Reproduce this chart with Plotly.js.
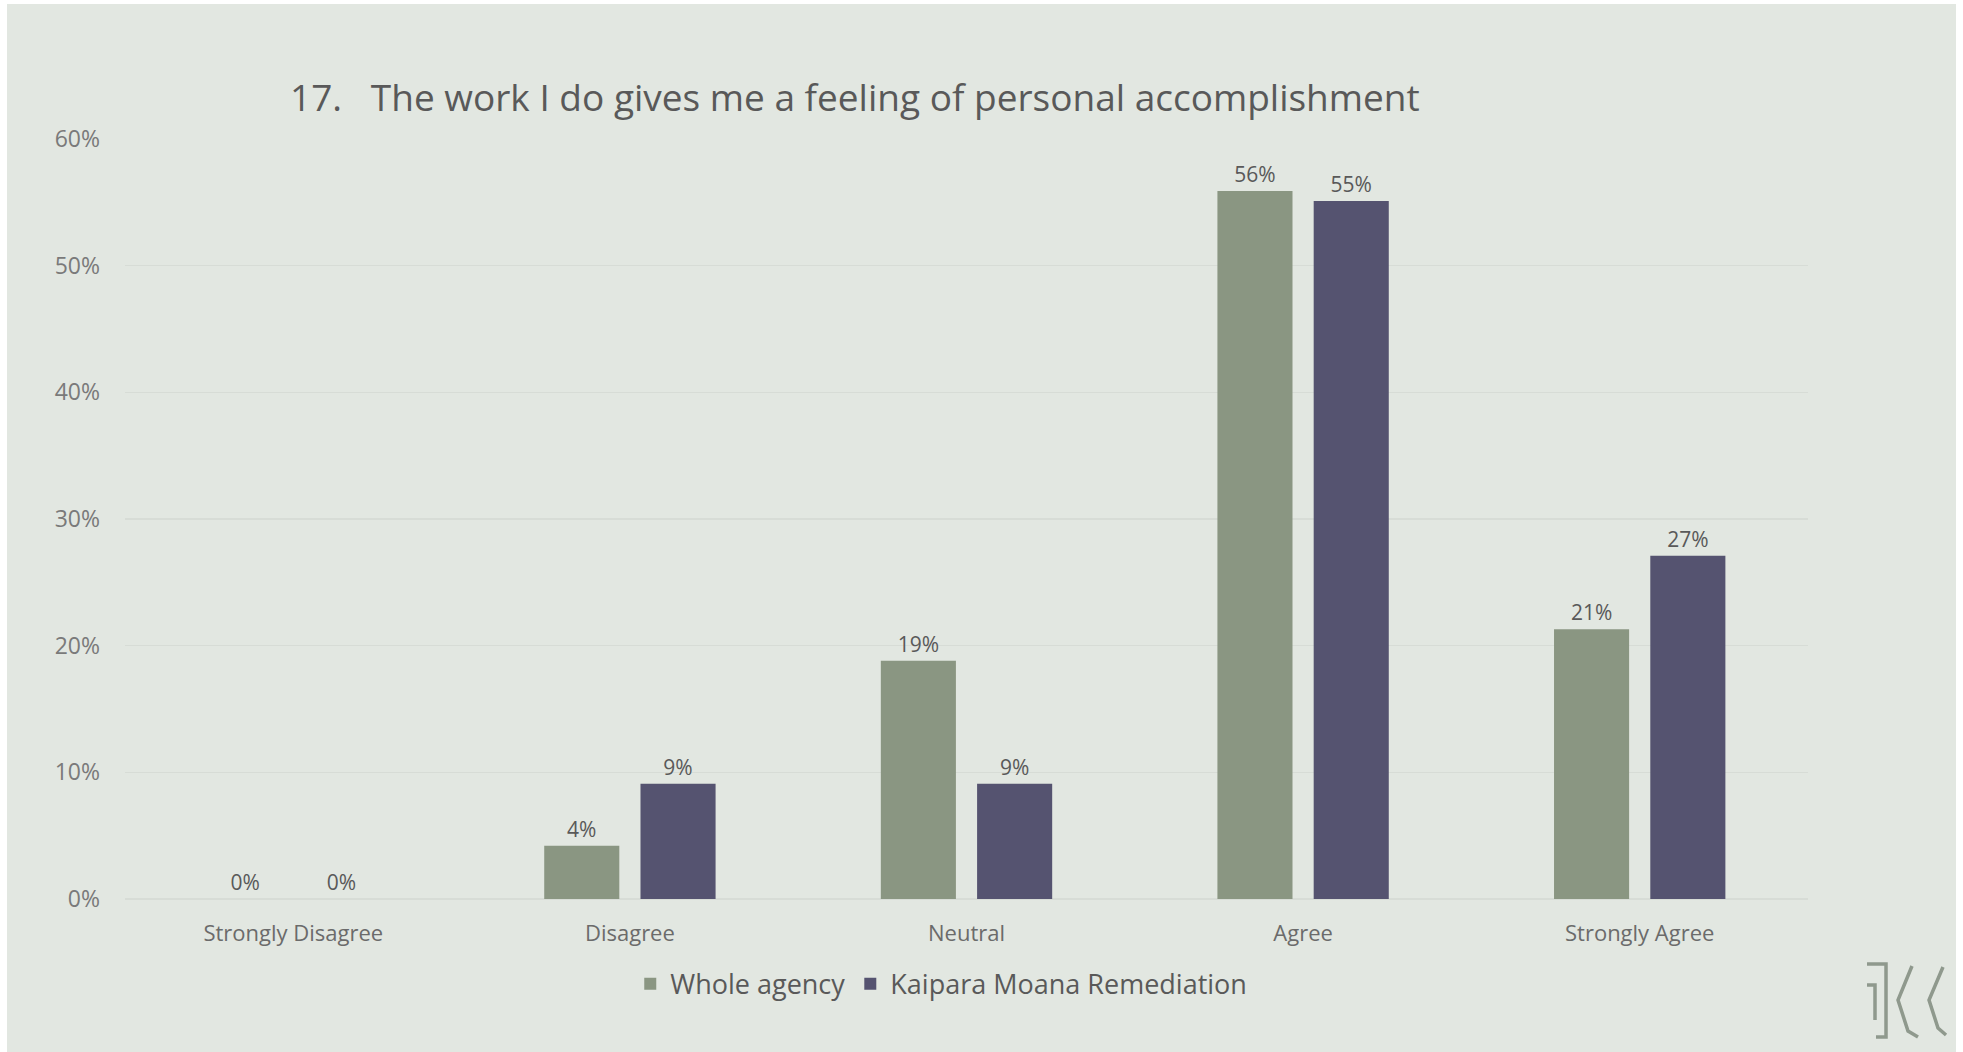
<!DOCTYPE html>
<html>
<head>
<meta charset="utf-8">
<script src="https://cdn.plot.ly/plotly-3.0.1.min.js"></script>
<style>
html,body{margin:0;padding:0;background:#ffffff;width:1963px;height:1052px;overflow:hidden;}
#chart{position:absolute;left:7px;top:4px;width:1949px;height:1048px;}
</style>
</head>
<body>
<div id="chart"></div>
<script>
const categories = ["Strongly Disagree", "Disagree", "Neutral", "Agree", "Strongly Agree"];
const wholeAgency = [0, 4.2, 18.8, 55.9, 21.3];
const kaiparaMoana = [0, 9.1, 9.1, 55.1, 27.1];
const seriesNames = ["Whole agency", "Kaipara Moana Remediation"];
const yTicks = [0, 10, 20, 30, 40, 50, 60];
const yTickText = ["0%", "10%", "20%", "30%", "40%", "50%", "60%"];
const titleText = "17.\u00a0\u00a0\u00a0The work I do gives me a feeling of personal accomplishment";

const W = 1949, H = 1048;
const M = {l: 118, r: 148, t: 135, b: 153};
const pw = W - M.l - M.r, ph = H - M.t - M.b;
// convert page pixel coords to paper coords (for the logo decoration)
const px = x => (x - 7 - M.l) / pw;
const py = y => (H - M.b - (y - 4)) / ph;
function pathFrom(pts){
  return pts.map((p,i)=> (i? 'L':'M') + px(p[0]).toFixed(5) + ',' + py(p[1]).toFixed(5)).join(' ');
}
const logoColor = '#8f998d';
const logoPaths = [
  [[1867,964],[1886,964],[1886,1037],[1876,1037]],
  [[1867,985],[1875,985],[1875,1020]],
  [[1912,966],[1898,1000],[1908,1031],[1918,1037]],
  [[1943,967],[1929,1000],[1938,1028],[1946,1035]]
];
const shapes = logoPaths.map(pts => ({
  type: 'path', xref: 'paper', yref: 'paper', path: pathFrom(pts),
  line: {color: logoColor, width: 3.5}
}));

const common = {
  type: 'bar', x: categories,
  texttemplate: '%{y:.0f}%', textposition: 'outside', cliponaxis: false,
  textfont: {family: 'Open Sans, sans-serif', size: 21, color: '#595959'},
  hoverinfo: 'skip'
};
const data = [
  Object.assign({}, common, {name: seriesNames[0], y: wholeAgency, marker: {color: '#8a9682'}}),
  Object.assign({}, common, {name: seriesNames[1], y: kaiparaMoana, marker: {color: '#555370'}})
];

const layout = {
  width: W, height: H,
  paper_bgcolor: '#e2e7e1', plot_bgcolor: '#e2e7e1',
  margin: M,
  font: {family: 'Open Sans, sans-serif', color: '#595959'},
  title: {
    text: titleText,
    font: {family: 'Open Sans, sans-serif', size: 37, color: '#595959'},
    xref: 'container', yref: 'container', x: 283 / W, y: 1 - 94 / H,
    xanchor: 'left', yanchor: 'middle'
  },
  barmode: 'group', bargap: 0.428, bargroupgap: 0.22,
  xaxis: {
    showgrid: false, zeroline: false, showline: false, ticks: '',
    tickfont: {family: 'Open Sans, sans-serif', size: 22, color: '#6b6b6b'},
    ticklabelstandoff: 19
  },
  yaxis: {
    range: [0, 60], tickvals: yTicks, ticktext: yTickText, tickmode: 'array',
    showgrid: true, gridcolor: '#d7dcd6', gridwidth: 1.5,
    zeroline: true, zerolinecolor: '#d7dcd6', zerolinewidth: 1.5,
    showline: false, ticks: '',
    tickfont: {family: 'Open Sans, sans-serif', size: 23, color: '#7a7a7a'},
    ticklabelstandoff: 24
  },
  showlegend: true,
  legend: {
    orientation: 'h', x: 0.485, xanchor: 'center', y: -0.112, yanchor: 'middle',
    font: {family: 'Open Sans, sans-serif', size: 27, color: '#595959'},
    bgcolor: 'rgba(0,0,0,0)', itemclick: false, itemdoubleclick: false
  },
  shapes: shapes
};

Plotly.newPlot('chart', data, layout, {displayModeBar: false, staticPlot: true});
</script>
</body>
</html>
